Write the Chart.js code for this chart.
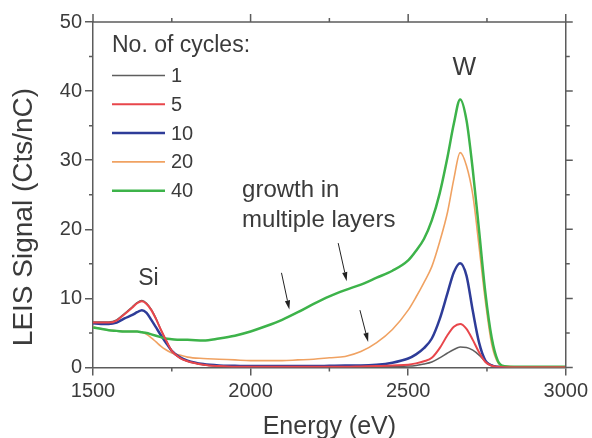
<!DOCTYPE html>
<html>
<head>
<meta charset="utf-8">
<script src="https://cdn.jsdelivr.net/npm/chart.js@4"></script>
<style>
  html, body { margin: 0; padding: 0; background: #fff; }
  #wrap { width: 592px; height: 438px; position: relative; }
</style>
</head>
<body>
<div id="wrap"><canvas id="leis"></canvas></div>
<script>
// ---- data ----
const energies = [1500,1525,1550,1575,1600,1625,1640,1655,1670,1685,
                  1700,1715,1730,1750,1775,1800,1850,1900,1950,2000,
                  2050,2100,2150,2200,2250,2300,2350,2400,2450,2500,
                  2525,2550,2575,2600,2625,2645,2665,2685,2705,2725,
                  2745,2765,2785,2805,2850,2900,2950,3000];

const cycles1 = [6.6,6.6,6.6,6.9,7.8,8.8,9.4,9.7,9.3,8.4,
                 7.1,5.5,4.1,2.4,1.4,0.9,0.4,0.2,0.1,0.1,
                 0.1,0.1,0.1,0.1,0.1,0.1,0.1,0.1,0.15,0.2,
                 0.3,0.5,0.8,1.4,2.1,2.6,2.95,2.9,2.5,1.8,
                 0.9,0.35,0.1,0.05,0.05,0.05,0.05,0.05];

const cycles5 = [6.5,6.5,6.5,6.8,7.7,8.7,9.3,9.6,9.2,8.3,
                 7.0,5.5,4.1,2.4,1.4,0.9,0.4,0.2,0.1,0.1,
                 0.1,0.1,0.1,0.1,0.1,0.1,0.15,0.2,0.3,0.4,
                 0.6,0.9,1.4,2.8,4.7,5.9,6.3,5.6,4.0,2.2,
                 0.8,0.25,0.1,0.05,0.05,0.05,0.05,0.05];

const cycles10 = [6.4,6.3,6.3,6.5,7.1,7.6,8.0,8.3,7.9,6.9,
                  5.8,4.7,3.7,2.4,1.5,1.0,0.5,0.3,0.25,0.2,
                  0.2,0.2,0.2,0.2,0.25,0.3,0.3,0.4,0.7,1.3,
                  1.9,2.8,4.2,7.0,10.8,13.8,15.1,13.3,8.2,3.6,
                  1.0,0.3,0.1,0.05,0.05,0.05,0.05,0.05];

const cycles20 = [5.9,5.6,5.4,5.3,5.2,5.2,5.2,5.1,4.8,4.3,
                  3.7,3.1,2.6,2.1,1.8,1.5,1.3,1.2,1.1,1.0,
                  1.0,1.0,1.1,1.2,1.4,1.6,2.3,3.6,5.5,8.3,
                  10.2,12.3,14.6,18.2,22.5,27.3,31.1,29.2,25.0,17.5,
                  9.6,3.4,0.7,0.2,0.1,0.1,0.1,0.1];

const cycles40 = [5.8,5.6,5.4,5.3,5.2,5.2,5.2,5.1,5.0,4.8,
                  4.6,4.4,4.2,4.1,4.0,4.0,3.9,4.2,4.6,5.2,
                  6.0,6.9,8.0,9.2,10.3,11.2,12.0,13.0,14.0,15.5,
                  16.9,18.6,21.3,25.2,30.5,35.3,38.8,35.8,28.6,19.8,
                  10.8,4.3,0.9,0.2,0.1,0.1,0.1,0.1];

const seriesNames = ['1', '5', '10', '20', '40'];
const xMajor = [1500, 2000, 2500, 3000];
const xMinor = [1750, 2250, 2750];
const yMajor = [0, 10, 20, 30, 40, 50];
const yMinor = [5, 15, 25, 35, 45];

// ---- look ----
const FONT = '"Liberation Sans", Arial, Helvetica, sans-serif';
const TEXT = '#3b3b3b';
const AXIS = '#5c5c5c';
const colors = ['#5e5e5e', '#e8464b', '#2e3c98', '#f0a262', '#3db34a'];
const widths = [1.5, 2, 2.5, 1.6, 2.5];
const drawOrder = [5, 1, 3, 4, 2];

Chart.defaults.font.family = FONT;

const seriesData = [cycles1, cycles5, cycles10, cycles20, cycles40];
const datasets = seriesData.map((vals, i) => ({
    label: seriesNames[i],
    data: energies.map((e, k) => ({ x: e, y: vals[k] })),
    borderColor: colors[i],
    borderWidth: widths[i],
    pointRadius: 0,
    cubicInterpolationMode: 'monotone',
    fill: false,
    order: drawOrder[i]
}));

// annotations in data coordinates
const labels = [
    { text: 'Si', x: 1676, y: 11.9, size: 23, align: 'center' },
    { text: 'W', x: 2678, y: 42.3, size: 25, align: 'center' },
    { text: 'growth in', x: 1973, y: 24.7, size: 24, align: 'left' },
    { text: 'multiple layers', x: 1973, y: 20.4, size: 24, align: 'left' }
];
const arrows = [
    { from: [2098, 13.7], to: [2123, 8.4] },
    { from: [2278, 18.0], to: [2305, 12.5] },
    { from: [2347, 8.3], to: [2373, 3.7] }
];

// frame on top/right + minor ticks
const frameTicks = {
    id: 'frameTicks',
    afterDraw(chart) {
        const { ctx, chartArea: a, scales: { x, y } } = chart;
        ctx.save();
        ctx.strokeStyle = AXIS;
        ctx.lineWidth = 1.5;
        ctx.beginPath();
        ctx.moveTo(a.left, a.top);
        ctx.lineTo(a.right, a.top);
        ctx.lineTo(a.right, a.bottom);
        xMajor.forEach(v => {
            const p = x.getPixelForValue(v);
            ctx.moveTo(p, a.top); ctx.lineTo(p, a.top - 8);
        });
        xMinor.forEach(v => {
            const p = x.getPixelForValue(v);
            ctx.moveTo(p, a.top); ctx.lineTo(p, a.top - 4);
            ctx.moveTo(p, a.bottom); ctx.lineTo(p, a.bottom + 4);
        });
        yMajor.forEach(v => {
            const p = y.getPixelForValue(v);
            ctx.moveTo(a.right, p); ctx.lineTo(a.right + 7, p);
        });
        yMinor.forEach(v => {
            const p = y.getPixelForValue(v);
            ctx.moveTo(a.right, p); ctx.lineTo(a.right + 4, p);
            ctx.moveTo(a.left, p); ctx.lineTo(a.left - 4, p);
        });
        ctx.stroke();
        ctx.restore();
    }
};

// legend inside the plot, title + line samples
const insideLegend = {
    id: 'insideLegend',
    afterDraw(chart) {
        const { ctx } = chart;
        ctx.save();
        ctx.fillStyle = TEXT;
        ctx.textAlign = 'left';
        ctx.textBaseline = 'alphabetic';
        ctx.font = '23px ' + FONT;
        ctx.fillText('No. of cycles:', 112, 52);
        ctx.font = '20px ' + FONT;
        ctx.textBaseline = 'middle';
        chart.data.datasets.forEach((ds, i) => {
            const yy = 75.5 + i * 28.8;
            ctx.strokeStyle = ds.borderColor;
            ctx.lineWidth = ds.borderWidth;
            ctx.beginPath();
            ctx.moveTo(112, yy);
            ctx.lineTo(165, yy);
            ctx.stroke();
            ctx.fillText(ds.label, 171, yy + 1);
        });
        ctx.restore();
    }
};

// text labels, arrows, y title
const notes = {
    id: 'notes',
    afterDraw(chart) {
        const { ctx, scales: { x, y } } = chart;
        ctx.save();
        ctx.fillStyle = TEXT;
        ctx.textBaseline = 'alphabetic';
        labels.forEach(l => {
            ctx.font = l.size + 'px ' + FONT;
            ctx.textAlign = l.align;
            ctx.fillText(l.text, x.getPixelForValue(l.x), y.getPixelForValue(l.y));
        });

        ctx.strokeStyle = '#222';
        ctx.fillStyle = '#222';
        ctx.lineWidth = 1;
        arrows.forEach(ar => {
            const x1 = x.getPixelForValue(ar.from[0]), y1 = y.getPixelForValue(ar.from[1]);
            const x2 = x.getPixelForValue(ar.to[0]), y2 = y.getPixelForValue(ar.to[1]);
            const ang = Math.atan2(y2 - y1, x2 - x1);
            const hl = 9, hw = 2.6;
            const bx = x2 - hl * Math.cos(ang), by = y2 - hl * Math.sin(ang);
            ctx.beginPath();
            ctx.moveTo(x1, y1);
            ctx.lineTo(bx, by);
            ctx.stroke();
            ctx.beginPath();
            ctx.moveTo(x2, y2);
            ctx.lineTo(bx + hw * Math.sin(ang), by - hw * Math.cos(ang));
            ctx.lineTo(bx - hw * Math.sin(ang), by + hw * Math.cos(ang));
            ctx.closePath();
            ctx.fill();
        });

        // y axis title sits a little below the axis centre in the original
        ctx.fillStyle = TEXT;
        ctx.font = '28px ' + FONT;
        ctx.textAlign = 'center';
        ctx.textBaseline = 'middle';
        ctx.translate(24, 217);
        ctx.rotate(-Math.PI / 2);
        ctx.fillText('LEIS Signal (Cts/nC)', 0, 0);
        ctx.restore();
    }
};

new Chart(document.getElementById('leis'), {
    type: 'line',
    data: { datasets },
    options: {
        responsive: true,
        maintainAspectRatio: false,
        animation: false,
        layout: { padding: { top: 22, right: 23, left: 0, bottom: 0 } },
        plugins: {
            legend: { display: false },
            tooltip: { enabled: false }
        },
        scales: {
            x: {
                type: 'linear',
                min: 1500,
                max: 3000,
                afterFit: s => { s.height = 70.5; },
                afterBuildTicks: s => { s.ticks = xMajor.map(v => ({ value: v })); },
                ticks: {
                    color: TEXT, font: { size: 20 }, padding: 4, maxRotation: 0,
                    callback: v => String(v)
                },
                grid: { drawOnChartArea: false, drawTicks: true, tickLength: 8, color: AXIS, lineWidth: 1.5 },
                border: { color: AXIS, width: 1.5 },
                title: {
                    display: true,
                    text: 'Energy (eV)',
                    color: TEXT,
                    font: { size: 25, lineHeight: 0.84 },
                    padding: { top: 0, bottom: 0 }
                }
            },
            y: {
                min: 0,
                max: 50,
                afterFit: s => { s.width = 93; },
                afterBuildTicks: s => { s.ticks = yMajor.map(v => ({ value: v })); },
                ticks: { color: TEXT, font: { size: 20 }, padding: 3, callback: v => String(v) },
                grid: { drawOnChartArea: false, drawTicks: true, tickLength: 8, color: AXIS, lineWidth: 1.5 },
                border: { color: AXIS, width: 1.5 }
            }
        }
    },
    plugins: [frameTicks, insideLegend, notes]
});
</script>
</body>
</html>
